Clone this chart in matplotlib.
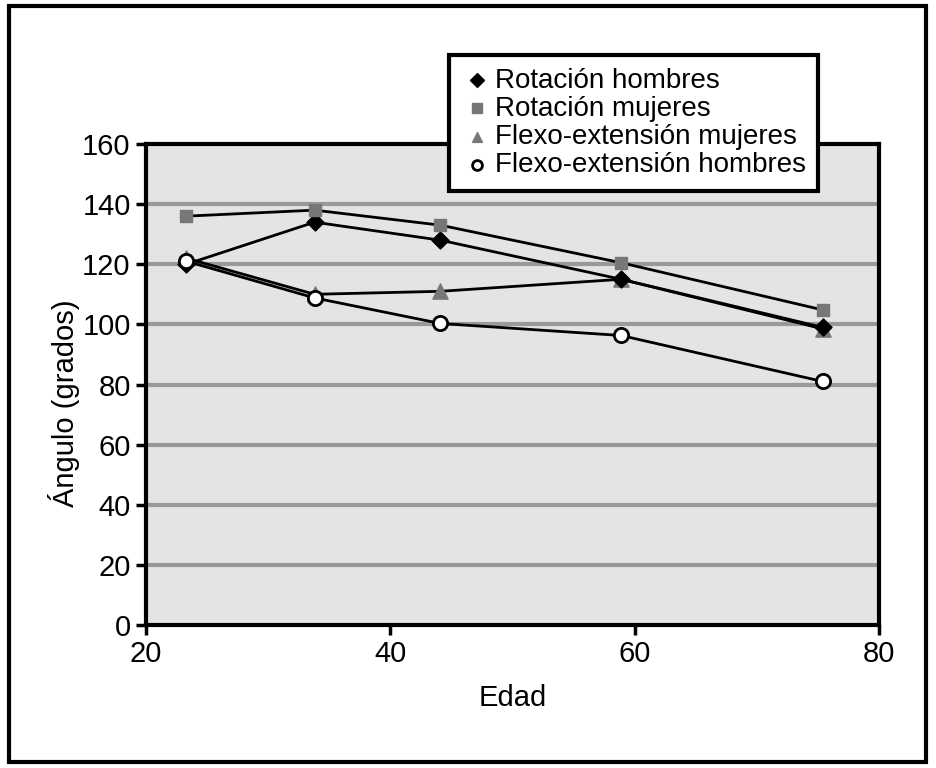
import matplotlib
matplotlib.use("Agg")
import matplotlib.pyplot as plt
from matplotlib.patches import Rectangle

plt.rcParams['font.family'] = ['Liberation Sans', 'DejaVu Sans']

edad = [23.3, 33.8, 44.1, 58.9, 75.4]
rot_hombres = [120, 134, 128, 115, 99]
rot_mujeres = [136, 138, 133, 120.5, 104.8]
flex_mujeres = [122, 110, 111, 115, 98.5]
flex_hombres = [121, 108.8, 100.3, 96.3, 81]

labels = ["Rotación hombres", "Rotación mujeres",
          "Flexo-extensión mujeres", "Flexo-extensión hombres"]
xticks = [20, 40, 60, 80]
yticks = [0, 20, 40, 60, 80, 100, 120, 140, 160]

FS = 21
LFS = 20

fig = plt.figure(figsize=(9.36, 7.68), dpi=100)
ax = fig.add_axes([146/936, 1-625/768, (879-146)/936, (625-144)/768])
ax.set_facecolor('#e4e4e4')

for y in yticks[1:-1]:
    ax.axhline(y, color='#999999', lw=3, zorder=1)

lw = 2
ax.plot(edad, flex_hombres, color='black', lw=lw, zorder=2)
ax.plot(edad, flex_mujeres, color='black', lw=lw, zorder=2)
ax.plot(edad, rot_mujeres, color='black', lw=lw, zorder=2)
ax.plot(edad, rot_hombres, color='black', lw=lw, zorder=2)

h1 = ax.scatter(edad, rot_hombres, marker='D', s=75, color='black', zorder=4, label=labels[0])
h2 = ax.scatter(edad, rot_mujeres, marker='s', s=80, color='#777777', zorder=4, label=labels[1])
h3 = ax.scatter(edad, flex_mujeres, marker='^', s=120, color='#777777', zorder=3, label=labels[2])
h4 = ax.scatter(edad, flex_hombres, marker='o', s=105, facecolor='white', edgecolor='black',
                linewidth=2, zorder=5, label=labels[3])

ax.set_xlim(20, 80)
ax.set_ylim(0, 160)
ax.set_xticks(xticks)
ax.set_yticks(yticks)
ax.tick_params(axis='both', labelsize=FS, width=2.5, length=7, direction='out', pad=4)
for s in ax.spines.values():
    s.set_linewidth(3)
    s.set_color('black')

ax.set_xlabel('Edad', fontsize=FS, labelpad=11)
ax.set_ylabel('Ángulo (grados)', fontsize=FS, labelpad=0)
ax.yaxis.set_label_coords(-0.09, 0.46)

leg = ax.legend(handles=[h1, h2, h3, h4], loc='upper left',
                bbox_to_anchor=((449-146)/733, 1 + (144-55)/481),
                fontsize=LFS, frameon=True, fancybox=False, framealpha=1,
                edgecolor='black', handletextpad=0.1, handlelength=1.1,
                borderpad=0.45, labelspacing=0.08, borderaxespad=0)
leg.get_frame().set_linewidth(3)
leg.set_zorder(10)
for h in leg.legend_handles:
    h.set_sizes([50])

fig.patches.append(Rectangle((9/936, 1-762/768), (926-9)/936, (762-6)/768,
                             transform=fig.transFigure, fill=False,
                             edgecolor='black', linewidth=3))

fig.savefig('out.png', dpi=100, facecolor='white')
